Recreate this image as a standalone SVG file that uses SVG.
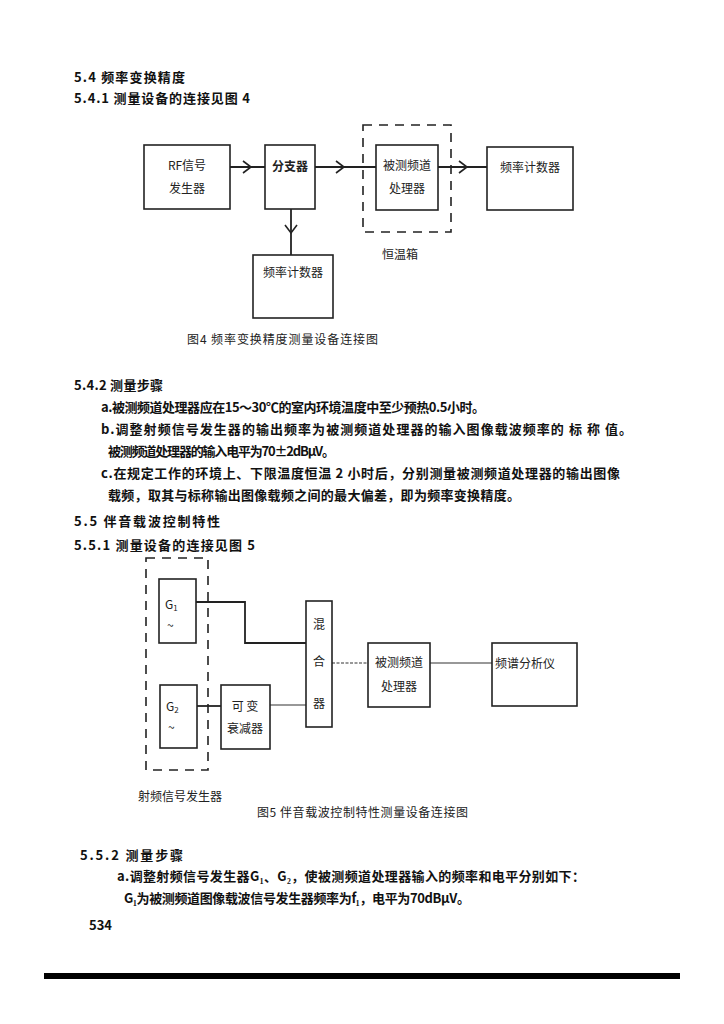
<svg xmlns="http://www.w3.org/2000/svg" width="724" height="1024" viewBox="0 0 724 1024">
<style>
.h{font-family:"Noto Sans CJK SC","Liberation Serif",serif;font-weight:bold;font-size:13px;fill:#111}
.t{font-family:"Noto Sans CJK SC","Liberation Serif",serif;font-weight:bold;font-size:13px;fill:#111}
.n{font-family:"Noto Sans CJK SC","Liberation Sans",sans-serif;font-size:12px;fill:#222}
.c{font-family:"Noto Sans CJK SC","Liberation Sans",sans-serif;font-size:12px;fill:#222}
.box{fill:#fff;stroke:#222;stroke-width:1.6}
.dash{fill:none;stroke:#222;stroke-width:1.6;stroke-dasharray:9 7}
.ln{fill:none;stroke:#222;stroke-width:1.8}
.thin{fill:none;stroke:#333;stroke-width:1.1}
.chev{fill:none;stroke:#222;stroke-width:1.6}
</style>
<rect width="724" height="1024" fill="#fff"/>

<!-- Section text -->
<text class="h" x="74" y="82" textLength="111">5.4  频率变换精度</text>
<text class="h" x="74" y="103" textLength="176">5.4.1  测量设备的连接见图 4</text>

<!-- Figure 4 -->
<g id="f4-connectors">
  <line class="ln" x1="230" y1="167" x2="265" y2="167"/>
  <polyline class="chev" points="243,161 251,167 243,173"/>
  <line class="ln" x1="315" y1="167" x2="376" y2="167"/>
  <polyline class="chev" points="336,161 344,167 336,173"/>
  <line class="ln" x1="438" y1="167" x2="487" y2="167"/>
  <polyline class="chev" points="459,161 467,167 459,173"/>
  <line class="ln" x1="291" y1="209" x2="291" y2="255"/>
  <polyline class="chev" points="285,225 291,233 297,225"/>
</g>
<g id="f4-thermostat">
  <rect class="dash" x="363" y="125" width="88" height="107"/>
  <text class="n" x="400" y="259" text-anchor="middle">恒温箱</text>
</g>
<g id="f4-rfgen">
  <rect class="box" x="144" y="145" width="86" height="64"/>
  <text class="n" x="187" y="170" text-anchor="middle">RF信号</text>
  <text class="n" x="187" y="193" text-anchor="middle">发生器</text>
</g>
<g id="f4-splitter">
  <rect class="box" x="265" y="145" width="50" height="64"/>
  <text class="n" x="290" y="171" text-anchor="middle" font-weight="bold">分支器</text>
</g>
<g id="f4-processor">
  <rect class="box" x="376" y="145" width="62" height="65"/>
  <text class="n" x="407" y="170" text-anchor="middle">被测频道</text>
  <text class="n" x="407" y="193" text-anchor="middle">处理器</text>
</g>
<g id="f4-counter1">
  <rect class="box" x="487" y="147" width="86" height="63"/>
  <text class="n" x="530" y="172" text-anchor="middle">频率计数器</text>
</g>
<g id="f4-counter2">
  <rect class="box" x="253" y="255" width="80" height="63"/>
  <text class="n" x="293" y="277" text-anchor="middle">频率计数器</text>
</g>
<text class="c" x="187" y="344" textLength="191">图4   频率变换精度测量设备连接图</text>

<!-- 5.4.2 text -->
<text class="h" x="74" y="390" textLength="89">5.4.2  测量步骤</text>
<text class="t" x="101" y="412" textLength="384">a.被测频道处理器应在15～30℃的室内环境温度中至少预热0.5小时。</text>
<text class="t" x="101" y="434" textLength="531">b.调整射频信号发生器的输出频率为被测频道处理器的输入图像载波频率的 标 称 值。</text>
<text class="t" x="108" y="456" textLength="227">被测频道处理器的输入电平为70±2dBμV。</text>
<text class="t" x="101" y="478" textLength="519">c.在规定工作的环境上、下限温度恒温 2 小时后，分别测量被测频道处理器的输出图像</text>
<text class="t" x="108" y="500" textLength="412">载频，取其与标称输出图像载频之间的最大偏差，即为频率变换精度。</text>
<text class="h" x="74" y="526" textLength="146">5.5  伴音载波控制特性</text>
<text class="h" x="74" y="550" textLength="181">5.5.1  测量设备的连接见图 5</text>

<!-- Figure 5 -->
<g id="f5-connectors">
  <polyline class="ln" points="196,602 245,602 245,643 306,643"/>
  <line class="ln" x1="197" y1="706" x2="221" y2="706"/>
  <line class="thin" x1="270" y1="705" x2="306" y2="705"/>
  <line class="thin" x1="332" y1="663" x2="368" y2="663" stroke-dasharray="3 1.5"/>
  <line class="thin" x1="430" y1="663" x2="492" y2="663"/>
</g>
<g id="f5-rfgen">
  <rect class="dash" x="146" y="558" width="62" height="212"/>
  <text class="n" x="180" y="801" text-anchor="middle">射频信号发生器</text>
</g>
<g id="f5-g1">
  <rect class="box" x="159" y="579" width="37" height="64"/>
  <text class="n" x="165" y="609" font-family="Liberation Serif">G<tspan font-size="8" dy="2">1</tspan></text>
  <text class="n" x="167" y="630">~</text>
</g>
<g id="f5-g2">
  <rect class="box" x="160" y="685" width="37" height="63"/>
  <text class="n" x="166" y="711" font-family="Liberation Serif">G<tspan font-size="8" dy="2">2</tspan></text>
  <text class="n" x="168" y="732">~</text>
</g>
<g id="f5-attenuator">
  <rect class="box" x="221" y="685" width="49" height="64"/>
  <text class="n" x="245" y="711" text-anchor="middle">可  变</text>
  <text class="n" x="245" y="733" text-anchor="middle">衰减器</text>
</g>
<g id="f5-mixer">
  <rect class="box" x="306" y="601" width="26" height="126"/>
  <text class="n" x="319" y="629" text-anchor="middle">混</text>
  <text class="n" x="319" y="666" text-anchor="middle">合</text>
  <text class="n" x="319" y="708" text-anchor="middle">器</text>
</g>
<g id="f5-processor">
  <rect class="box" x="368" y="643" width="62" height="64"/>
  <text class="n" x="399" y="667" text-anchor="middle">被测频道</text>
  <text class="n" x="399" y="691" text-anchor="middle">处理器</text>
</g>
<g id="f5-analyzer">
  <rect class="box" x="492" y="643" width="85" height="63"/>
  <text class="n" x="525" y="668" text-anchor="middle">频谱分析仪</text>
</g>
<text class="c" x="257" y="817" textLength="211">图5   伴音载波控制特性测量设备连接图</text>

<!-- 5.5.2 text -->
<text class="h" x="80" y="860" textLength="103">5.5.2  测量步骤</text>
<text class="t" x="117" y="881" textLength="468">a.调整射频信号发生器G₁、G₂，使被测频道处理器输入的频率和电平分别如下：</text>
<text class="t" x="124" y="903" textLength="346">G₁为被测频道图像载波信号发生器频率为f₁，电平为70dBμV。</text>
<text class="h" x="89" y="930" font-size="11">534</text>

<rect x="44" y="973" width="636" height="6" fill="#000"/>
</svg>
